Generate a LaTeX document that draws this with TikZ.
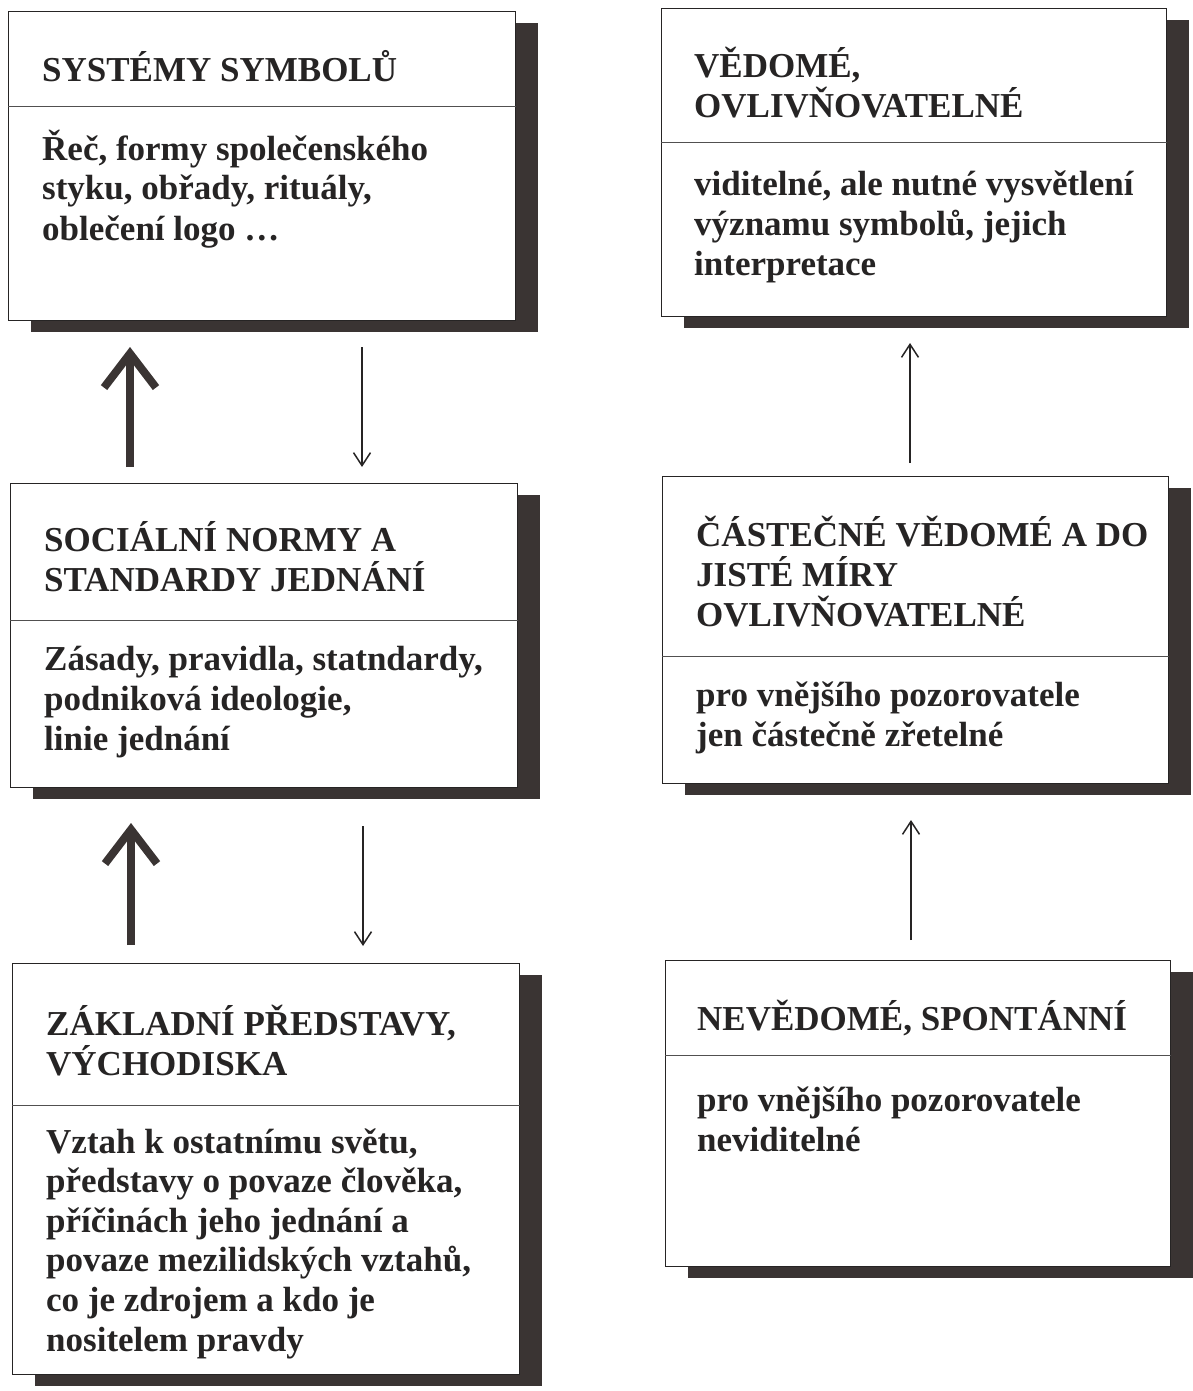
\documentclass[tikz,border=0pt]{standalone}
\usepackage{fontspec}
\setmainfont{Liberation Serif}
\usetikzlibrary{arrows.meta,shadows}
\definecolor{ink}{HTML}{262424}
\definecolor{shade}{HTML}{3A3433}
\tikzset{
  box/.style={draw=ink, line width=1.3pt, fill=white, inner sep=0pt, anchor=north west,
    drop shadow={shadow xshift=22pt, shadow yshift=-11pt, fill=shade, opacity=1}},
  sepline/.style={draw=ink!80, line width=0.9pt},
  % multi-line labels are placed by the baseline of their last line
  label/.style={anchor=base west, align=left, inner sep=0pt, text=ink,
    font=\fontsize{35}{40}\selectfont\bfseries},
  boldarrow/.style={draw=shade, line width=8pt,
    -{Straight Barb[length=34pt, width=52pt, line width=8pt]}},
  thinarrow/.style={draw=ink, line width=1.5pt,
    -{Straight Barb[length=13pt, width=17pt, line width=1.5pt]}}
}
\begin{document}
\begin{tikzpicture}[x=1pt, y=-1pt]
\useasboundingbox (0,0) rectangle (1193,1391);

% left column
\node[box, minimum width=507pt, minimum height=309pt] (sym) at (8,11) {};
\draw[sepline] (sym.west |- 0,106) -- (sym.east |- 0,106);
\node[label] (symT) at (42,82) {SYSTÉMY SYMBOLŮ};
\node[label] (symB) at (42,240) {Řeč, formy společenského\\styku, obřady, rituály,\\oblečení logo …};

\node[box, minimum width=507pt, minimum height=304pt] (norm) at (10,483) {};
\draw[sepline] (norm.west |- 0,620) -- (norm.east |- 0,620);
\node[label] (normT) at (44,591) {SOCIÁLNÍ NORMY A\\STANDARDY JEDNÁNÍ};
\node[label] (normB) at (44,750) {Zásady, pravidla, statndardy,\\podniková ideologie,\\linie jednání};

\node[box, minimum width=507pt, minimum height=411pt] (zakl) at (12,963) {};
\draw[sepline] (zakl.west |- 0,1105) -- (zakl.east |- 0,1105);
\node[label] (zaklT) at (46,1075) {ZÁKLADNÍ PŘEDSTAVY,\\VÝCHODISKA};
\node[label, font=\fontsize{35}{39.6}\selectfont\bfseries] (zaklB) at (46,1351)
  {Vztah k ostatnímu světu,\\představy o povaze člověka,\\příčinách jeho jednání a\\povaze mezilidských vztahů,\\co je zdrojem a kdo je\\nositelem pravdy};

% right column
\node[box, minimum width=505pt, minimum height=308pt] (ved) at (661,8) {};
\draw[sepline] (ved.west |- 0,142) -- (ved.east |- 0,142);
\node[label] (vedT) at (694,118) {VĚDOMÉ,\\OVLIVŇOVATELNÉ};
\node[label] (vedB) at (694,275) {viditelné, ale nutné vysvětlení\\významu symbolů, jejich\\interpretace};

\node[box, minimum width=506pt, minimum height=307pt] (cast) at (662,476) {};
\draw[sepline] (cast.west |- 0,656) -- (cast.east |- 0,656);
\node[label] (castT) at (696,626) {ČÁSTEČNÉ VĚDOMÉ A DO\\JISTÉ MÍRY\\OVLIVŇOVATELNÉ};
\node[label] (castB) at (696,746) {pro vnějšího pozorovatele\\jen částečně zřetelné};

\node[box, minimum width=505pt, minimum height=306pt] (nev) at (665,960) {};
\draw[sepline] (nev.west |- 0,1055) -- (nev.east |- 0,1055);
\node[label] (nevT) at (697,1030) {NEVĚDOMÉ, SPONTÁNNÍ};
\node[label] (nevB) at (697,1151) {pro vnějšího pozorovatele\\neviditelné};

% connectors between the levels
\coordinate (up1s) at (130,467);  \coordinate (up1e) at (130,347);
\coordinate (dn1s) at (362,347);  \coordinate (dn1e) at (362,467);
\coordinate (up2s) at (131,945);  \coordinate (up2e) at (131,823);
\coordinate (dn2s) at (363,826);  \coordinate (dn2e) at (363,946);
\coordinate (up3s) at (910,463);  \coordinate (up3e) at (910,343);
\coordinate (up4s) at (911,940);  \coordinate (up4e) at (911,820);

\draw[boldarrow] (up1s) -- (up1e);
\draw[thinarrow] (dn1s) -- (dn1e);
\draw[boldarrow] (up2s) -- (up2e);
\draw[thinarrow] (dn2s) -- (dn2e);
\draw[thinarrow] (up3s) -- (up3e);
\draw[thinarrow] (up4s) -- (up4e);
\end{tikzpicture}
\end{document}
